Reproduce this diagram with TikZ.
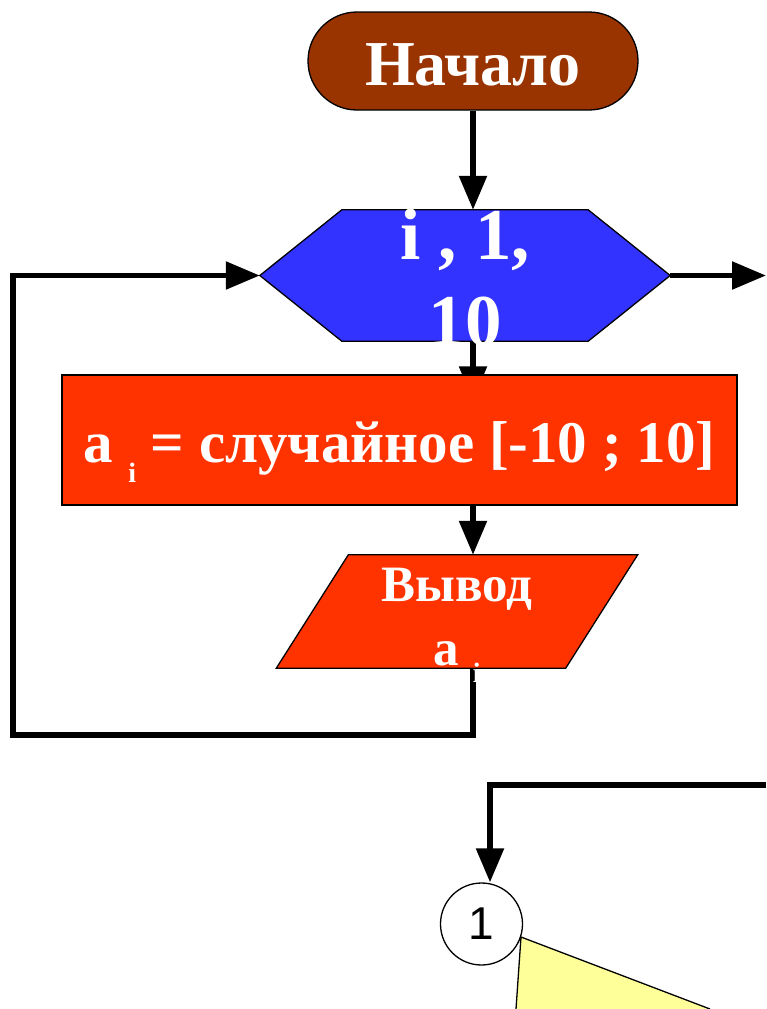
\documentclass[tikz,border=0pt]{standalone}
\usepackage{fontspec}
\setmainfont{Liberation Serif}
\newfontfamily\connfont{Liberation Sans}
\usetikzlibrary{arrows.meta,backgrounds}
\definecolor{startbrown}{HTML}{993300}
\definecolor{loopblue}{HTML}{3333FF}
\definecolor{procred}{HTML}{FF3300}
\definecolor{choiceyellow}{HTML}{FFFF99}

\begin{document}
\begin{tikzpicture}[x=1pt,y=-1pt,
  flow/.style={line width=5.5pt,-{Triangle[length=34pt,width=27pt]}},
  outline/.style={draw=black,line width=1.3pt},
  whitetext/.style={text=white,font=\bfseries}]
  \useasboundingbox (0,0) rectangle (766,1009);

  % start
  \node[outline,fill=startbrown,rounded corners=49pt,minimum width=330pt,minimum height=98pt,
        inner sep=0pt,text height=50pt,text depth=2pt,
        whitetext,font=\fontsize{64}{64}\selectfont\bfseries] (start) at (473,61) {Начало};

  % loop header
  \node[minimum width=410pt,minimum height=131pt,inner sep=0pt] (loop) at (465,275.5) {};
  \filldraw[outline,fill=loopblue] (loop.west) -- ([xshift=82pt]loop.north west) -- ([xshift=-82pt]loop.north east)
    -- (loop.east) -- ([xshift=-82pt]loop.south east) -- ([xshift=82pt]loop.south west) -- cycle;

  % body
  \node[outline,fill=procred,minimum width=675pt,minimum height=130pt,inner sep=0pt,
        text height=50pt,text depth=6pt,
        whitetext,font=\fontsize{59}{59}\selectfont\bfseries] (rand) at (399.5,440)
        {a\hspace{15pt}\raisebox{-20pt}{\fontsize{28}{28}\selectfont i} = случайное [-10 ; 10]};

  % output
  \node[minimum width=289pt,minimum height=113pt,inner sep=0pt] (out) at (457,611.5) {};
  \filldraw[outline,fill=procred] ([xshift=36pt]out.north west) -- ([xshift=36pt]out.north east)
    -- ([xshift=-36pt]out.south east) -- ([xshift=-36pt]out.south west) -- cycle;

  % connectors
  \coordinate (exit) at (766,275.5);
  \coordinate (back) at (13,735);
  \draw[flow] (start.south) -- (start.south |- loop.north);
  \draw[flow] (loop.east) -- (exit);
  \begin{pgfonlayer}{background}
    \draw[flow] (start.south |- loop.south) -- ([yshift=-26pt]start.south |- rand.north);
  \end{pgfonlayer}
  \draw[flow] (start.south |- rand.south) -- (start.south |- out.north);
  \draw[flow] (start.south |- out.south) |- (back) |- (loop.west);

  \node[whitetext,align=center,font=\fontsize{73}{86}\selectfont\bfseries] (looptext) at ([yshift=-2pt]loop) {i , 1,\\10};
  \node[whitetext,align=center,font=\fontsize{51}{64}\selectfont\bfseries] (outtext) at ([yshift=-14pt]out)
    {Вывод\\a\hspace{14pt}\raisebox{-17pt}{\fontsize{28}{28}\selectfont i}};

  % next part
  \coordinate (tip) at (521,937);
  \fill[choiceyellow] (516,1009) -- (tip) -- (710,1009) -- cycle;
  \draw[outline] (516,1009) -- (tip) -- (710,1009);
  \node[circle,outline,fill=white,minimum size=82pt,inner sep=0pt,
        font=\connfont\fontsize{46}{46}\selectfont] (conn) at (481.5,924) {1};
  \coordinate (feed) at (766,785);
  \draw[flow] (feed) -| ([xshift=8.5pt]conn.north);
\end{tikzpicture}
\end{document}
